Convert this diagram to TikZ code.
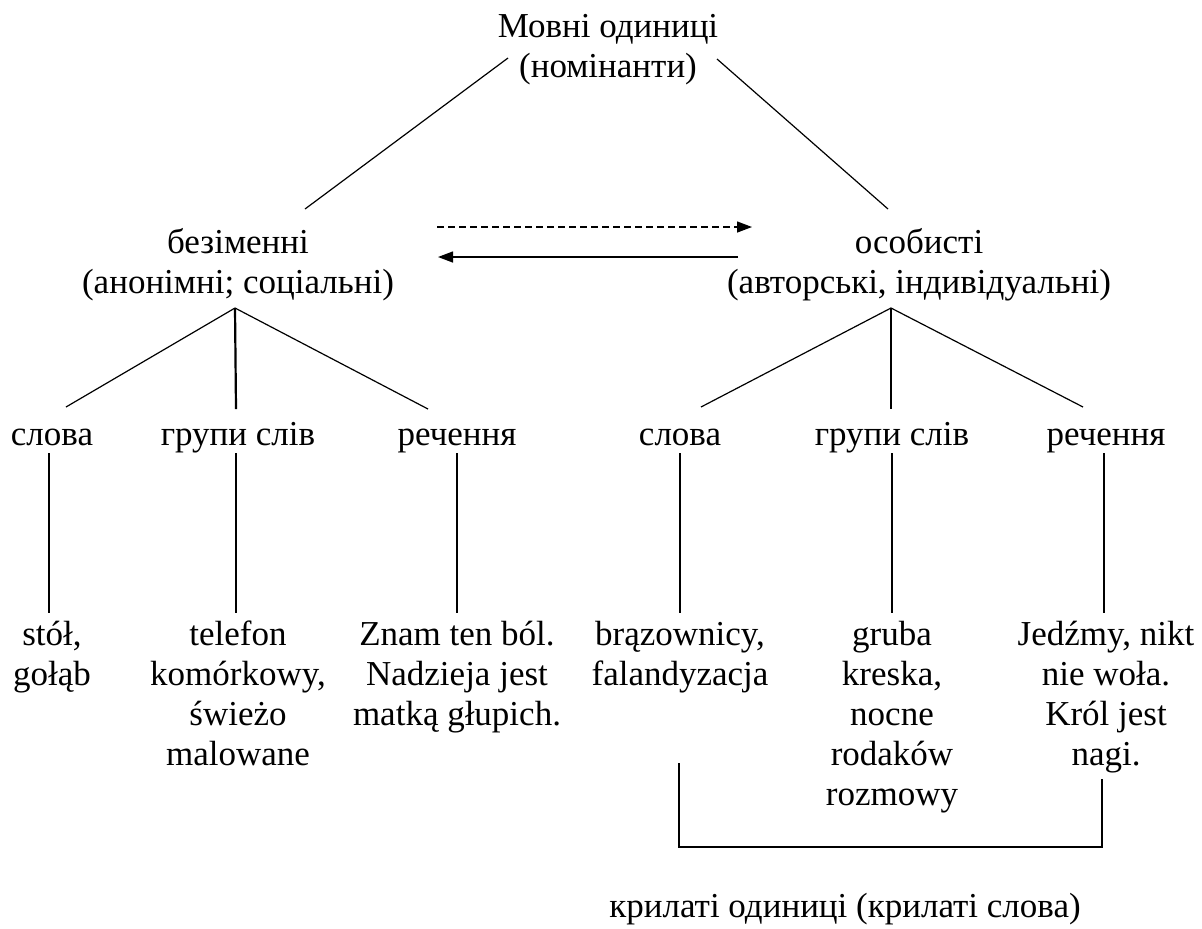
\documentclass[tikz,border=0pt]{standalone}
\usepackage{fontspec}
\setmainfont{Liberation Serif}
\usetikzlibrary{arrows.meta,calc}
\begin{document}
\begin{tikzpicture}[x=0.5pt,y=-0.5pt,
  lbl/.style={anchor=base,inner sep=0pt,align=center,font=\fontsize{17.5pt}{20pt}\selectfont},
  thin/.style={line width=0.6pt},
  thick/.style={line width=1.1pt},
  arr/.style={line width=0.7pt,-{Triangle[length=7.5pt,width=5.5pt]}},
  dsh/.style={dash pattern=on 3.5pt off 2pt}]
\useasboundingbox (0,0) rectangle (1202,928);
% nodes (anchor base = baseline of the last line)
\node[lbl] (top) at (608,77) {Мовні одиниці\\(номінанти)};
\node[lbl] (bez) at (238,293) {безіменні\\(анонімні; соціальні)};
\node[lbl] (oso) at (919,293) {особисті\\(авторські, індивідуальні)};
\node[lbl] (s1) at (52,445) {слова};
\node[lbl] (g1) at (238,445) {групи слів};
\node[lbl] (r1) at (457,445) {речення};
\node[lbl] (s2) at (680,445) {слова};
\node[lbl] (g2) at (892,445) {групи слів};
\node[lbl] (r2) at (1106,445) {речення};
\node[lbl] (e1) at (52,685) {stół,\\gołąb};
\node[lbl] (e2) at (238,765) {telefon\\komórkowy,\\świeżo\\malowane};
\node[lbl] (e3) at (457,725) {Znam ten ból.\\Nadzieja jest\\matką głupich.};
\node[lbl] (e4) at (680,685) {brązownicy,\\falandyzacja};
\node[lbl] (e5) at (892,805) {gruba\\kreska,\\nocne\\rodaków\\rozmowy};
\node[lbl] (e6) at (1106,765) {Jedźmy, nikt\\nie woła.\\Król jest\\nagi.};
\node[lbl] (kr) at (845,917) {крилаті одиниці (крилаті слова)};
% connector end points
\coordinate (tl) at (508,58);
\coordinate (tr) at (717,59);
\coordinate (bl) at (305,209);
\coordinate (br) at (888,209);
\coordinate (la) at (235,308);
\coordinate (ra) at (891,308);
\coordinate (d1) at (437,227);
\coordinate (d2) at (752,227);
\coordinate (a1) at (738,257);
\coordinate (a2) at (438,257);
% top to level 2
\draw[thin] (tl) -- (bl);
\draw[thin] (tr) -- (br);
% arrows between level 2 nodes
\draw[arr,dsh] (d1) -- (d2);
\draw[arr] (a1) -- (a2);
% level 2 to level 3
\draw[thin] (la) -- ($(s1.base)+(14,-38)$);
\draw[thick] (la) -- ($(g1.base)+(-2,-36)$);
\draw[thin] (la) -- ($(r1.base)+(-29,-36)$);
\draw[thin] (ra) -- ($(s2.base)+(21,-38)$);
\draw[thick] (ra) -- ($(g2.base)+(-1,-36)$);
\draw[thin] (ra) -- ($(r2.base)+(-23,-38)$);
% level 3 to examples
\draw[thick] ($(s1.base)+(-3,8)$) -- ($(s1.base)+(-3,168)$);
\draw[thick] ($(g1.base)+(-2,8)$) -- ($(g1.base)+(-2,168)$);
\draw[thick] ($(r1.base)+(0,8)$) -- ($(r1.base)+(0,168)$);
\draw[thick] ($(s2.base)+(0,8)$) -- ($(s2.base)+(0,168)$);
\draw[thick] ($(g2.base)+(0,8)$) -- ($(g2.base)+(0,168)$);
\draw[thick] ($(r2.base)+(-2,8)$) -- ($(r2.base)+(-2,168)$);
% bracket for winged units
\coordinate (k1) at (679,763);
\coordinate (k2) at (679,847);
\coordinate (k3) at (1102,847);
\coordinate (k4) at (1102,779);
\draw[thick] (k1) -- (k2) -- (k3) -- (k4);
\end{tikzpicture}
\end{document}
